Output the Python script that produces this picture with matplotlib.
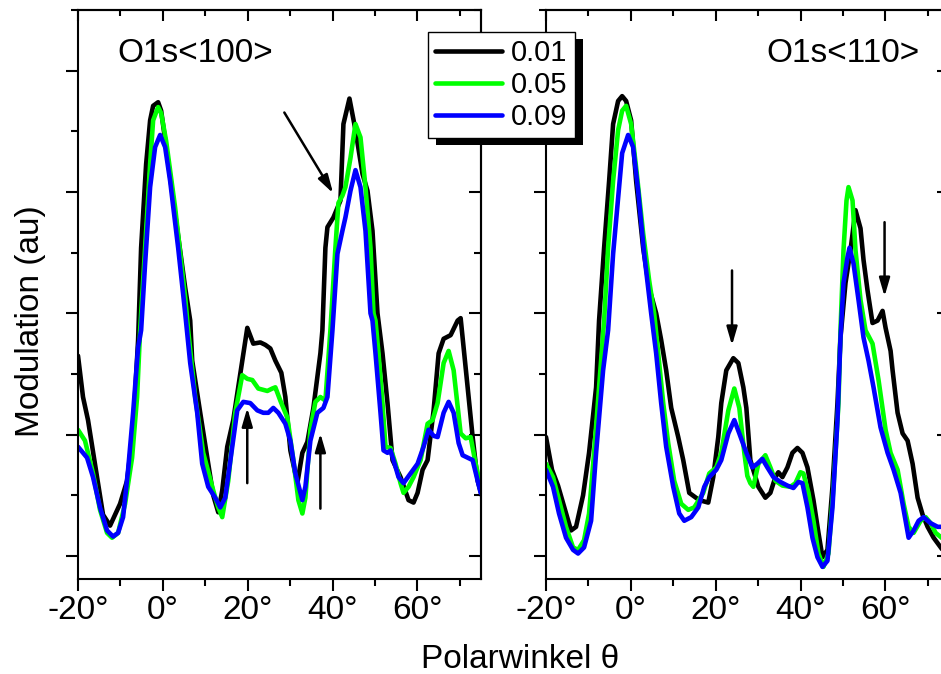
import matplotlib
matplotlib.use("Agg")
import matplotlib.pyplot as plt
import matplotlib.patheffects as pe
from matplotlib.ticker import MultipleLocator, FuncFormatter
from matplotlib.patches import ArrowStyle

plt.rcParams["font.family"] = ["Liberation Sans", "DejaVu Sans"]
plt.rcParams["axes.unicode_minus"] = False

# ---------------- O1s <100> ----------------
x100_k = [-20.0, -18.82, -17.64, -15.51, -14.10, -12.44, -10.08, -8.43, -7.01, -5.83, -5.12, -3.94, -3.00,
          -2.29, -1.11, -0.40, 0.78, 2.90, 5.27, 6.45, 6.92, 8.81, 10.70, 11.88, 13.06, 14.00, 15.18, 16.60,
          18.25, 19.91, 21.32, 22.98, 24.16, 25.34, 26.52, 27.93, 28.88, 30.06, 31.71, 32.89, 34.07, 35.49,
          37.14, 37.61, 38.32, 38.80, 40.21, 41.87, 42.57, 43.99, 45.41, 47.06, 48.24, 49.42, 50.60, 51.78,
          52.96, 54.14, 56.03, 57.92, 59.10, 60.05, 61.23, 62.41, 63.83, 65.01, 66.19, 67.84, 69.49, 70.20,
          71.85, 73.03, 74.21, 75.16]
y100_k = [1.65, 1.31, 1.12, 0.65, 0.34, 0.25, 0.43, 0.62, 1.04, 1.78, 2.54, 3.23, 3.59,
          3.71, 3.74, 3.67, 3.37, 2.82, 2.21, 1.94, 1.61, 1.18, 0.76, 0.50, 0.36, 0.54, 0.90, 1.12,
          1.50, 1.88, 1.75, 1.76, 1.74, 1.71, 1.61, 1.51, 1.31, 0.87, 0.60, 0.85, 0.94, 1.22,
          1.67, 1.86, 2.54, 2.71, 2.79, 2.93, 3.56, 3.77, 3.51, 3.15, 3.01, 2.68, 2.00, 1.67,
          1.26, 0.79, 0.65, 0.46, 0.44, 0.52, 0.71, 0.79, 1.20, 1.67, 1.79, 1.82, 1.94, 1.96,
          1.39, 0.98, 0.62, 0.50]

x100_g = [-20.0, -18.35, -16.46, -14.81, -13.15, -11.97, -10.55, -8.90, -7.25, -6.07, -5.36, -4.18, -3.00,
          -2.29, -1.11, -0.40, 0.78, 2.90, 5.27, 5.97, 7.63, 9.52, 11.88, 13.06, 14.00, 15.42, 17.07, 18.72,
          19.91, 21.09, 22.50, 24.63, 25.81, 26.52, 27.70, 29.35, 30.77, 31.95, 32.89, 33.60, 34.78, 35.96,
          37.14, 38.32, 39.50, 40.68, 41.39, 42.33, 43.04, 44.23, 45.41, 46.59, 47.77, 48.95, 49.66, 50.13,
          50.84, 51.78, 52.49, 53.67, 54.85, 56.03, 56.74, 57.92, 59.10, 60.76, 62.41, 63.59, 64.77, 66.19,
          67.37, 68.55, 70.20, 71.38, 72.56, 73.74, 74.92]
y100_g = [1.04, 0.95, 0.68, 0.38, 0.19, 0.15, 0.19, 0.43, 0.81, 1.31, 1.86, 2.54, 3.23,
          3.59, 3.70, 3.65, 3.42, 2.87, 2.13, 1.86, 1.31, 0.85, 0.54, 0.40, 0.32, 0.62, 1.18, 1.49,
          1.46, 1.45, 1.38, 1.36, 1.38, 1.39, 1.28, 1.14, 0.79, 0.46, 0.35, 0.48, 1.04, 1.27,
          1.31, 1.28, 1.86, 2.54, 2.91, 2.97, 3.04, 3.28, 3.56, 3.45, 3.04, 2.54, 2.00, 1.94,
          1.67, 1.26, 0.90, 0.89, 0.76, 0.60, 0.52, 0.57, 0.65, 0.79, 1.09, 1.12, 1.26, 1.59,
          1.69, 1.53, 1.01, 0.97, 0.98, 0.76, 0.57]

x100_b = [-20.0, -17.87, -16.46, -14.81, -13.15, -11.74, -10.55, -9.37, -8.19, -7.01, -5.83, -5.12, -4.18,
          -3.00, -1.82, -0.64, 0.54, 1.72, 3.61, 5.27, 6.45, 8.10, 9.28, 10.70, 12.35, 13.53, 14.71, 16.36,
          17.54, 18.96, 20.61, 22.27, 23.68, 24.86, 26.04, 27.23, 28.88, 30.06, 31.24, 32.89, 33.60, 34.78,
          36.43, 37.85, 38.80, 39.98, 41.16, 42.33, 43.04, 44.23, 45.41, 46.59, 47.77, 48.95, 49.42, 50.13,
          51.31, 52.02, 52.96, 53.67, 54.38, 55.56, 56.74, 58.39, 60.05, 61.46, 62.64, 63.83, 64.77, 66.19,
          67.37, 68.55, 69.73, 70.67, 71.85, 73.03, 74.21, 74.92]
y100_b = [0.90, 0.81, 0.65, 0.40, 0.21, 0.16, 0.19, 0.32, 0.71, 1.18, 1.72, 1.86, 2.41,
          3.04, 3.37, 3.47, 3.37, 3.09, 2.54, 2.00, 1.59, 1.18, 0.76, 0.57, 0.48, 0.40, 0.48, 0.90,
          1.20, 1.27, 1.26, 1.20, 1.18, 1.18, 1.22, 1.18, 1.09, 0.95, 0.68, 0.46, 0.57, 0.95,
          1.18, 1.22, 1.31, 1.86, 2.49, 2.68, 2.79, 3.01, 3.18, 3.04, 2.68, 2.00, 1.94, 1.67,
          1.18, 0.87, 0.85, 0.87, 0.79, 0.65, 0.60, 0.68, 0.76, 0.90, 1.04, 0.99, 0.98, 1.18,
          1.27, 1.18, 0.93, 0.83, 0.81, 0.79, 0.62, 0.52]

# ---------------- O1s <110> ----------------
x110_k = [-20.0, -18.58, -17.17, -15.51, -14.10, -12.92, -11.26, -9.85, -8.19, -7.49, -6.30, -5.12, -4.18,
          -3.00, -2.05, -1.11, 0.07, 1.25, 2.90, 4.32, 5.97, 7.15, 8.33, 9.52, 11.17, 12.35, 13.77, 16.13,
          18.25, 19.43, 20.61, 21.32, 22.50, 24.16, 25.34, 26.52, 27.23, 28.17, 30.06, 31.71, 32.89, 34.07,
          34.78, 35.73, 36.91, 38.09, 39.27, 40.45, 41.63, 43.05, 44.23, 45.17, 46.35, 47.53, 48.71, 49.42,
          50.60, 51.78, 52.96, 54.14, 54.85, 55.79, 56.97, 58.16, 59.34, 60.05, 61.23, 61.70, 62.88, 64.06,
          65.24, 66.42, 67.60, 68.78, 69.96, 71.38, 73.27, 75.0]
y110_k = [0.98, 0.71, 0.58, 0.38, 0.21, 0.24, 0.50, 0.85, 1.39, 1.94, 2.54, 3.09, 3.56,
          3.75, 3.79, 3.75, 3.59, 3.09, 2.54, 2.21, 2.00, 1.78, 1.53, 1.22, 0.98, 0.79, 0.52, 0.46,
          0.44, 0.65, 0.98, 1.26, 1.53, 1.63, 1.59, 1.39, 1.22, 0.79, 0.57, 0.48, 0.52, 0.65,
          0.69, 0.65, 0.73, 0.85, 0.89, 0.85, 0.73, 0.46, 0.19, -0.01, 0.05, 0.57, 1.26, 1.80,
          2.25, 2.52, 2.85, 2.70, 2.44, 2.19, 1.92, 1.94, 2.02, 1.88, 1.69, 1.53, 1.18, 1.01,
          0.95, 0.76, 0.48, 0.34, 0.24, 0.15, 0.06, -0.03]

x110_g = [-20.0, -18.35, -16.93, -15.28, -13.62, -12.44, -11.03, -9.85, -8.67, -7.49, -6.30, -5.36, -4.18,
          -3.00, -2.05, -1.11, 0.07, 1.25, 2.90, 4.32, 5.50, 6.45, 7.63, 8.81, 10.22, 11.88, 13.53, 14.95,
          17.07, 18.49, 20.14, 21.32, 22.98, 24.39, 25.57, 26.75, 27.46, 28.17, 28.88, 30.06, 31.71, 32.89,
          34.07, 35.73, 37.62, 38.80, 39.98, 40.68, 41.87, 43.05, 44.23, 45.41, 46.59, 47.77, 48.95, 49.42,
          50.13, 50.84, 51.31, 52.26, 52.96, 54.14, 55.32, 56.97, 58.39, 60.05, 61.23, 62.88, 64.30, 65.48,
          66.66, 68.31, 69.49, 70.67, 71.85, 73.27, 75.0]
y110_g = [0.76, 0.65, 0.46, 0.24, 0.07, 0.05, 0.13, 0.35, 0.85, 1.39, 1.94, 2.54, 3.09,
          3.51, 3.67, 3.71, 3.56, 3.20, 2.66, 2.27, 2.00, 1.67, 1.26, 0.93, 0.62, 0.43, 0.38, 0.40,
          0.52, 0.68, 0.73, 0.85, 1.20, 1.38, 1.22, 0.85, 0.66, 0.60, 0.57, 0.76, 0.83, 0.73,
          0.62, 0.58, 0.57, 0.60, 0.69, 0.68, 0.52, 0.29, 0.02, -0.09, 0.02, 0.57, 1.26, 1.86,
          2.52, 2.93, 3.04, 2.93, 2.52, 2.11, 1.86, 1.75, 1.45, 1.04, 0.85, 0.71, 0.43, 0.24,
          0.19, 0.29, 0.32, 0.27, 0.19, 0.15, 0.10]

x110_b = [-20.0, -18.35, -16.93, -15.28, -13.62, -12.44, -11.03, -9.37, -8.19, -6.54, -5.36, -4.18, -3.00,
          -2.05, -0.64, 0.54, 1.72, 3.14, 4.79, 5.97, 7.15, 8.33, 9.99, 11.41, 12.59, 14.24, 15.89, 17.31,
          18.49, 20.14, 21.32, 22.98, 24.39, 25.57, 27.23, 28.64, 29.82, 31.00, 32.18, 33.60, 35.25, 36.91,
          38.32, 39.50, 40.45, 41.63, 42.81, 43.99, 45.17, 46.35, 47.53, 48.71, 49.42, 50.13, 51.07, 51.55,
          52.49, 53.67, 54.85, 56.03, 57.21, 58.86, 60.52, 61.94, 63.59, 64.77, 65.48, 66.66, 67.84, 69.02,
          70.67, 72.32, 75.0]
y110_b = [0.71, 0.57, 0.35, 0.15, 0.05, 0.02, 0.07, 0.29, 0.85, 1.53, 1.86, 2.49, 2.95,
          3.32, 3.47, 3.37, 3.01, 2.49, 2.00, 1.67, 1.26, 0.90, 0.57, 0.35, 0.29, 0.32, 0.40, 0.57,
          0.65, 0.71, 0.79, 1.01, 1.12, 1.01, 0.85, 0.73, 0.76, 0.80, 0.73, 0.65, 0.61, 0.58,
          0.56, 0.61, 0.60, 0.40, 0.15, -0.01, -0.09, -0.04, 0.40, 1.12, 1.80, 2.25, 2.46, 2.54,
          2.41, 2.11, 1.80, 1.61, 1.39, 1.06, 0.85, 0.71, 0.52, 0.29, 0.15, 0.21, 0.29, 0.32,
          0.27, 0.24, 0.24]

labels = ["0.01", "0.05", "0.09"]
colors = ["#000000", "#00ff00", "#0000ff"]

# arrows: (tail x, tail y, head x, head y)
arrows_100 = [(28.64, 3.655, 40.14, 2.99), (19.9, 0.60, 19.9, 1.22), (37.14, 0.39, 37.14, 1.01)]
arrows_110 = [(23.85, 2.353, 23.85, 1.736), (59.81, 2.751, 59.81, 2.139)]

W, H = 941, 674
fig = plt.figure(figsize=(W / 100, H / 100), dpi=100)


def px_box(x0, x1, y0, y1):
    return [x0 / W, 1 - y1 / H, (x1 - x0) / W, (y1 - y0) / H]


ax1 = fig.add_axes(px_box(78, 481, 10, 579))
ax2 = fig.add_axes(px_box(546, 949, 10, 579))

deg_fmt = FuncFormatter(lambda v, p: f"{v:.0f}°")
head = ArrowStyle("-|>", head_length=0.55, head_width=0.16)


def style(ax):
    ax.set_xlim(-20, 75)
    ax.set_ylim(-0.19, 4.5)
    for s in ax.spines.values():
        s.set_linewidth(1.5)
    ax.xaxis.set_major_locator(MultipleLocator(20))
    ax.xaxis.set_minor_locator(MultipleLocator(10))
    ax.yaxis.set_major_locator(MultipleLocator(1))
    ax.yaxis.set_minor_locator(MultipleLocator(0.5))
    ax.xaxis.set_major_formatter(deg_fmt)
    ax.tick_params(which="both", direction="out", width=1.5, top=False, right=False,
                   labelleft=False, labelsize=24, pad=3)
    ax.tick_params(which="major", length=8.5)
    ax.tick_params(which="minor", length=5)

    top = ax.secondary_xaxis("top")
    top.xaxis.set_major_locator(MultipleLocator(20))
    top.xaxis.set_minor_locator(MultipleLocator(10))
    top.tick_params(which="both", direction="in", width=1.5, labeltop=False)
    top.tick_params(which="major", length=8)
    top.tick_params(which="minor", length=4)
    top.spines["top"].set_linewidth(1.5)

    right = ax.secondary_yaxis("right")
    right.yaxis.set_major_locator(MultipleLocator(1))
    right.yaxis.set_minor_locator(MultipleLocator(0.5))
    right.tick_params(which="both", direction="in", width=1.5, labelright=False)
    right.tick_params(which="major", length=8.5)
    right.tick_params(which="minor", length=5)
    right.spines["right"].set_linewidth(1.5)


def draw(ax, series, arrows, title, tx):
    handles = []
    for (xs, ys), c, lab in zip(series, colors, labels):
        h, = ax.plot(xs, ys, color=c, lw=3.3, label=lab,
                     solid_joinstyle="round", solid_capstyle="round")
        handles.append(h)
    for x0, y0, x1, y1 in arrows:
        ax.annotate("", xy=(x1, y1), xytext=(x0, y0),
                    arrowprops=dict(arrowstyle=head, color="black", lw=1.8,
                                    mutation_scale=20, shrinkA=0, shrinkB=0))
    ax.text(tx, 0.9086, title, transform=ax.transAxes, fontsize=24, ha="left", va="baseline")
    style(ax)
    return handles


hs = draw(ax1, [(x100_k, y100_k), (x100_g, y100_g), (x100_b, y100_b)], arrows_100, "O1s<100>", 0.097)
draw(ax2, [(x110_k, y110_k), (x110_g, y110_g), (x110_b, y110_b)], arrows_110, "O1s<110>", 0.548)

fig.text(30 / W, 1 - 321 / H, "Modulation (au)", rotation=90, fontsize=24, ha="center", va="center")
fig.text(520 / W, 1 - 668 / H, "Polarwinkel θ", fontsize=24, ha="center", va="baseline")

leg = fig.legend(hs, labels, loc="upper left", bbox_to_anchor=(428 / W, 1 - 32 / H),
                 bbox_transform=fig.transFigure, borderaxespad=0, fontsize=21,
                 handlelength=2.3, handletextpad=0.3, borderpad=0.25, labelspacing=0.13,
                 frameon=True, fancybox=False, framealpha=1, edgecolor="black")
frame = leg.get_frame()
frame.set_linewidth(1.0)
frame.set_path_effects([pe.withSimplePatchShadow(offset=(5.8, -5.2), shadow_rgbFace="black", alpha=1.0)])

fig.savefig("out.png", dpi=100)
